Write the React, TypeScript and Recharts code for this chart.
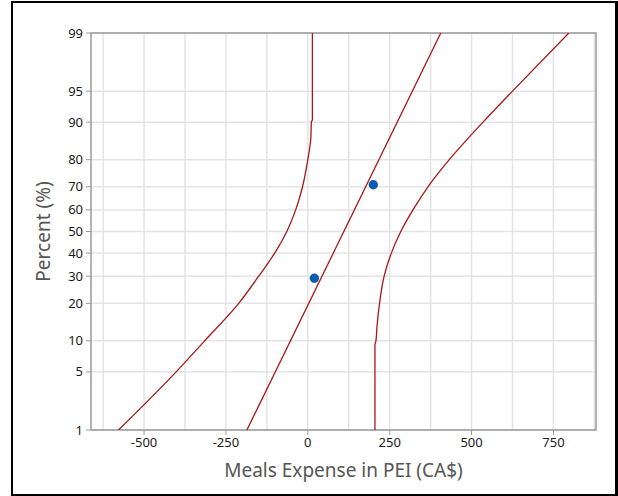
import {
  CartesianGrid,
  ComposedChart,
  ReferenceArea,
  Scatter,
  XAxis,
  YAxis,
} from 'recharts'

// probability axis: percent ticks and x ticks
const PCT_TICKS = [1, 5, 10, 20, 30, 40, 50, 60, 70, 80, 90, 95, 99]
const X_TICKS = [-500, -250, 0, 250, 500, 750]
const X_GRID = [-625, -500, -375, -250, -125, 0, 125, 250, 375, 500, 625, 750, 875]

// the two observations (median ranks)
const SAMPLE_X = [20, 200]
const SAMPLE_PCT = [29.17, 70.83]

// fitted normal line
const FIT_PCT = [1, 99]
const FIT_X = [-186, 406]

// 95% confidence band, left side
const LOWER_PCT = [1, 5, 10, 20, 30, 40, 50, 60, 70, 80, 86, 90, 90.5, 95, 99]
const LOWER_X = [-578, -402, -315, -211, -150, -101, -64, -37, -16, 0, 9, 11, 14, 14, 14]

// 95% confidence band, right side
const UPPER_PCT = [1, 5, 9.2, 10, 13, 20, 30, 40, 50, 60, 70, 80, 90, 95, 99]
const UPPER_X = [205, 205, 205, 208, 211, 219, 233, 255, 284, 321, 367, 432, 535, 625, 797]

const RED = '#a81818'
const BLUE = '#0a5cb0'
const FONT = '"Noto Sans", "Open Sans", sans-serif'

// inverse normal cdf (Acklam), used for the probability scale
function probit(p: number) {
  const a = [-39.69683028665376, 220.9460984245205, -275.9285104469687, 138.357751867269, -30.66479806614716, 2.506628277459239]
  const b = [-54.47609879822406, 161.5858368580409, -155.6989798598866, 66.80131188771972, -13.28068155288572]
  const c = [-0.007784894002430293, -0.3223964580411365, -2.400758277161838, -2.549732539343734, 4.374664141464968, 2.938163982698783]
  const d = [0.007784695709041462, 0.3224671290700398, 2.445134137142996, 3.754408661907416]
  const lo = 0.02425
  if (p < lo) {
    const q = Math.sqrt(-2 * Math.log(p))
    return (((((c[0] * q + c[1]) * q + c[2]) * q + c[3]) * q + c[4]) * q + c[5]) /
      ((((d[0] * q + d[1]) * q + d[2]) * q + d[3]) * q + 1)
  }
  if (p > 1 - lo) {
    const q = Math.sqrt(-2 * Math.log(1 - p))
    return -(((((c[0] * q + c[1]) * q + c[2]) * q + c[3]) * q + c[4]) * q + c[5]) /
      ((((d[0] * q + d[1]) * q + d[2]) * q + d[3]) * q + 1)
  }
  const q = p - 0.5
  const r = q * q
  return (((((a[0] * r + a[1]) * r + a[2]) * r + a[3]) * r + a[4]) * r + a[5]) * q /
    (((((b[0] * r + b[1]) * r + b[2]) * r + b[3]) * r + b[4]) * r + 1)
}

const toPoints = (pcts: number[], xs: number[]) =>
  pcts.map((p, i) => ({ x: xs[i], z: probit(p / 100) }))

const Z_MAX = probit(0.99)
const Y_TICKS = PCT_TICKS.map((p) => probit(p / 100))

function pctLabel(v: number) {
  const hit = PCT_TICKS.find((p) => Math.abs(probit(p / 100) - v) < 1e-6)
  return hit === undefined ? '' : String(hit)
}

const noDot = () => <g />
const bandLine = { stroke: RED, strokeWidth: 1.3 }

export default function App() {
  const samples = toPoints(SAMPLE_PCT, SAMPLE_X)
  const fit = toPoints(FIT_PCT, FIT_X)
  const lower = toPoints(LOWER_PCT, LOWER_X)
  const upper = toPoints(UPPER_PCT, UPPER_X)

  return (
    <div
      style={{
        position: 'absolute',
        left: 0,
        top: 0,
        width: 618,
        height: 496,
        background: '#fff',
        fontFamily: FONT,
      }}
    >
      <div
        style={{
          position: 'absolute',
          left: 11,
          top: 1,
          width: 607,
          height: 495,
          boxSizing: 'border-box',
          borderLeft: '2px solid #000',
          borderTop: '2px solid #000',
          borderRight: '3px solid #000',
          borderBottom: '2px solid #000',
        }}
      />
      <ComposedChart
        width={618}
        height={496}
        margin={{ top: 33, right: 22, bottom: 0, left: 0 }}
        style={{ position: 'absolute', left: 0, top: 0 }}
      >
        <CartesianGrid
          stroke="#e4e4e4"
          strokeWidth={1.5}
          verticalValues={X_GRID}
          horizontalValues={Y_TICKS}
        />
        <XAxis
          dataKey="x"
          type="number"
          domain={[-662, 880]}
          allowDataOverflow
          ticks={X_TICKS}
          height={66}
          tickSize={5}
          tickMargin={3}
          axisLine={false}
          tickLine={{ stroke: '#999' }}
          tick={{ fontSize: 13, fill: '#1a1a1a', fontFamily: FONT }}
          label={{
            value: 'Meals Expense in PEI (CA$)',
            position: 'center',
            dy: 7,
            fontSize: 19,
            fill: '#555',
            fontFamily: FONT,
          }}
        />
        <YAxis
          dataKey="z"
          type="number"
          domain={[-Z_MAX, Z_MAX]}
          allowDataOverflow
          ticks={Y_TICKS}
          interval={0}
          tickFormatter={pctLabel}
          width={91}
          tickSize={5}
          tickMargin={3}
          axisLine={false}
          tickLine={{ stroke: '#999' }}
          tick={{ fontSize: 13, fill: '#1a1a1a', fontFamily: FONT }}
          label={{
            value: 'Percent (%)',
            angle: -90,
            position: 'center',
            dx: -2,
            fontSize: 19,
            fill: '#555',
            fontFamily: FONT,
          }}
        />
        <ReferenceArea
          x1={-662}
          x2={880}
          y1={-Z_MAX}
          y2={Z_MAX}
          fill="none"
          stroke="#9a9a9a"
          strokeWidth={1.5}
        />
        <Scatter
          data={lower}
          line={bandLine}
          lineJointType="monotoneY"
          shape={noDot}
          isAnimationActive={false}
        />
        <Scatter
          data={upper}
          line={bandLine}
          lineJointType="monotoneY"
          shape={noDot}
          isAnimationActive={false}
        />
        <Scatter
          data={fit}
          line={bandLine}
          shape={noDot}
          isAnimationActive={false}
        />
        <Scatter
          data={samples}
          shape={(p: any) => <circle cx={p.cx} cy={p.cy} r={4.7} fill={BLUE} />}
          isAnimationActive={false}
        />
      </ComposedChart>
    </div>
  )
}
